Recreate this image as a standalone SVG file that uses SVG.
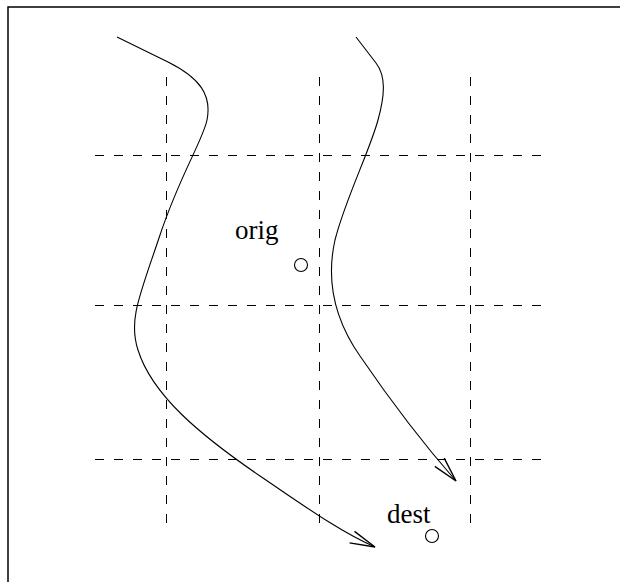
<svg xmlns="http://www.w3.org/2000/svg" width="620" height="582" viewBox="0 0 620 582">
<style>
.frame{fill:none;stroke:#000;stroke-width:1.5}
.grid{fill:none;stroke:#000;stroke-width:1;stroke-dasharray:9 10}
.curve{fill:none;stroke:#000;stroke-width:1.1}
.pt{fill:#fff;stroke:#000;stroke-width:1.1}
.lbl{font-family:"Liberation Serif","Times New Roman",serif;font-size:27px;fill:#000}
</style>
<defs>
<marker id="arr" markerUnits="userSpaceOnUse" markerWidth="30" markerHeight="20" viewBox="-22 -8 24 16" refX="0" refY="0" orient="auto">
<polyline points="-20,-5 0,0 -20,5" fill="none" stroke="#000" stroke-width="1.1"/>
</marker>
</defs>
<rect class="frame" x="8" y="7" width="700" height="700"/>
<g id="grid">
<line class="grid" x1="166.5" y1="77" x2="166.5" y2="530"/>
<line class="grid" x1="319.5" y1="77" x2="319.5" y2="530"/>
<line class="grid" x1="470.5" y1="77" x2="470.5" y2="530"/>
<line class="grid" x1="95" y1="155.5" x2="548" y2="155.5"/>
<line class="grid" x1="95" y1="305.5" x2="548" y2="305.5"/>
<line class="grid" x1="95" y1="459.5" x2="548" y2="459.5"/>
</g>
<g id="orig">
<text class="lbl" x="235" y="239">orig</text>
<circle class="pt" cx="301" cy="265" r="6.5"/>
</g>
<g id="dest">
<text class="lbl" x="387" y="523">dest</text>
<circle class="pt" cx="432" cy="536" r="6.5"/>
</g>
<g id="connectors">
<path class="curve" marker-end="url(#arr)" d="M117,37 L168,62 C200,78 212,95 207,120 C203,140 180,175 160,235 C140,295 128,320 138,350 C152,395 200,435 260,476 C300,503 340,532 375,547"/>
<path class="curve" marker-end="url(#arr)" d="M356,37 L376,63 C386,76 385,95 378,120 C370,150 345,200 335,240 C326,280 335,320 360,356 C390,400 420,440 456,481"/>
</g>
</svg>
